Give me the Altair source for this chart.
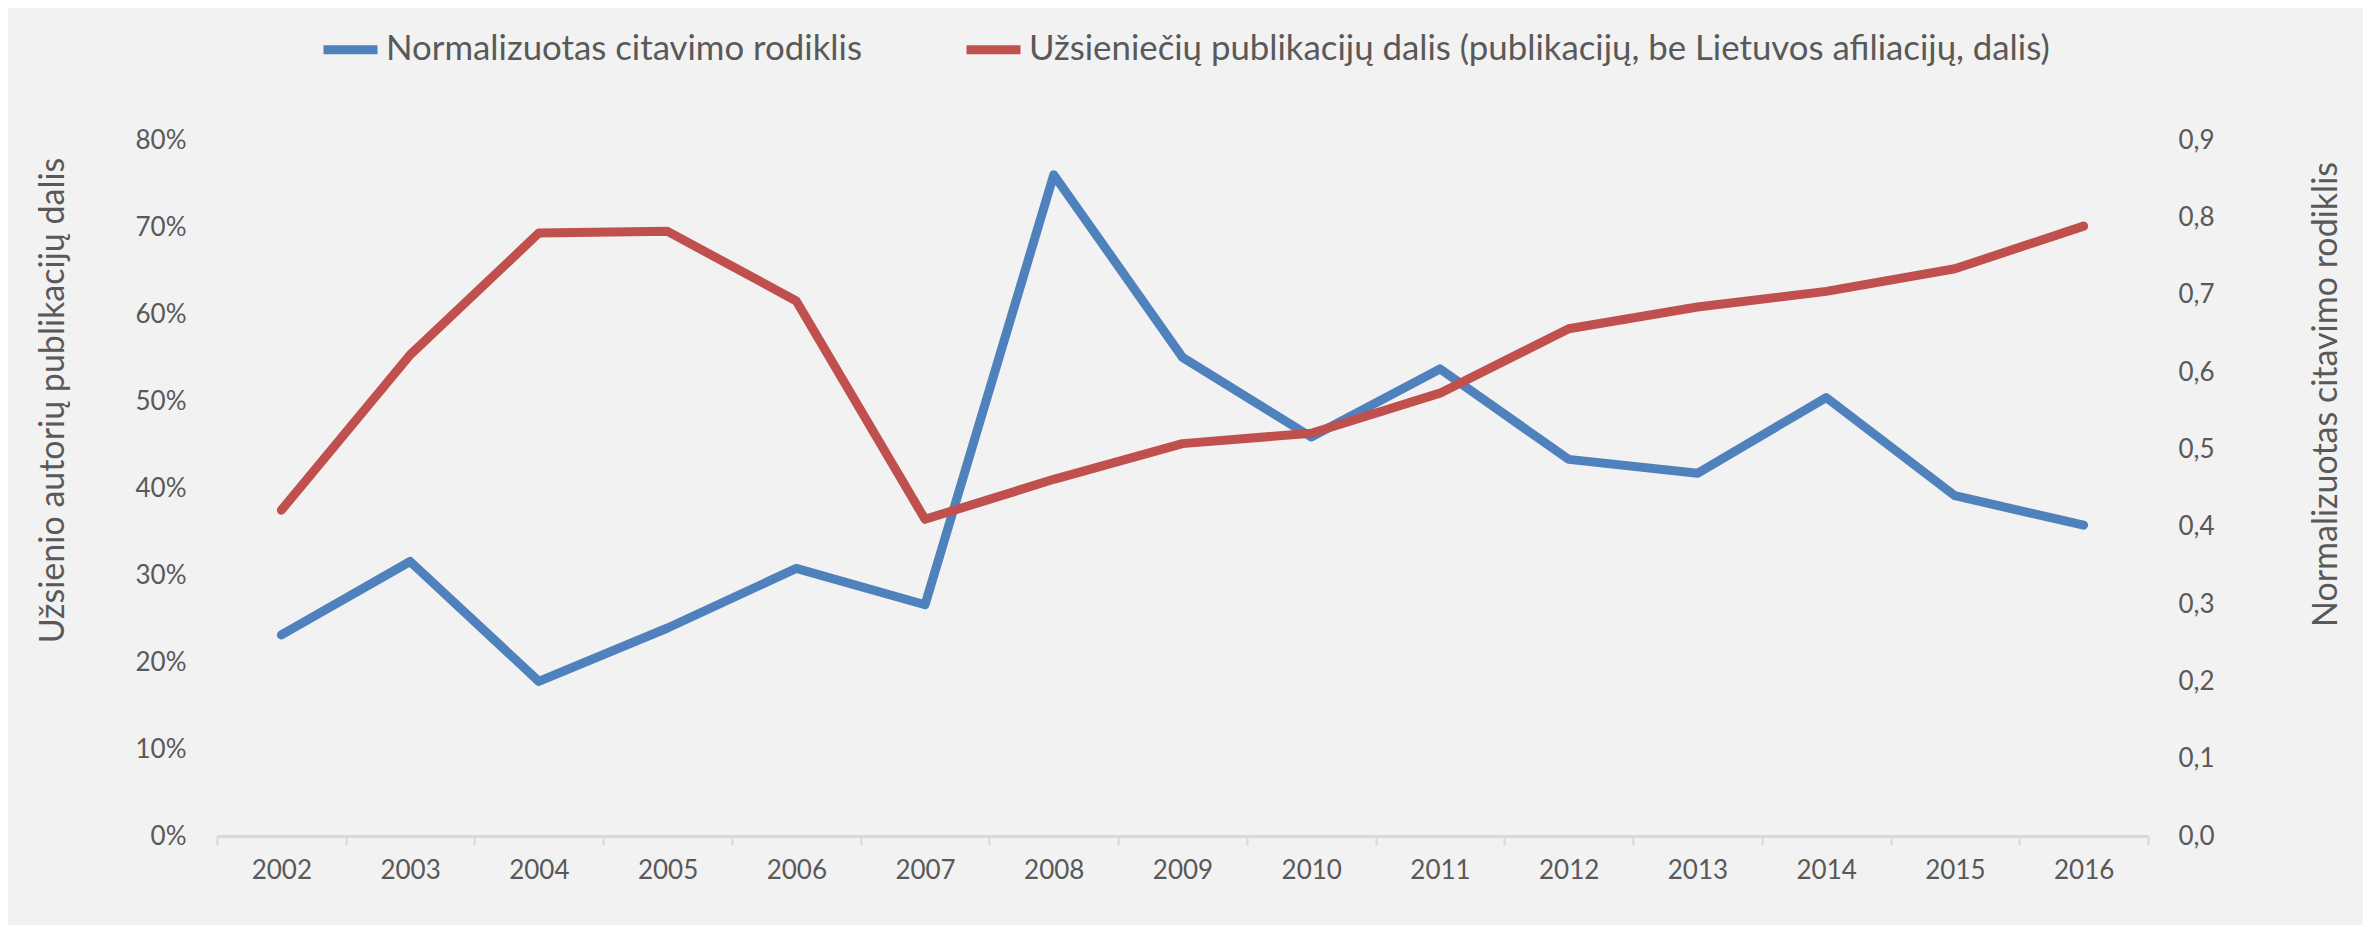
import altair as alt
import pandas as pd

years = ["2002", "2003", "2004", "2005", "2006", "2007", "2008", "2009",
         "2010", "2011", "2012", "2013", "2014", "2015", "2016"]
citation_index = [0.260, 0.355, 0.200, 0.269, 0.346, 0.299, 0.855, 0.619,
                  0.516, 0.604, 0.487, 0.469, 0.567, 0.440, 0.402]
foreign_share = [0.3745, 0.553, 0.693, 0.695, 0.615, 0.364, 0.410, 0.451,
                 0.463, 0.509, 0.583, 0.608, 0.626, 0.652, 0.701]

SERIES_CIT = "Normalizuotas citavimo rodiklis"
SERIES_SHARE = "Užsieniečių publikacijų dalis (publikacijų, be Lietuvos afiliacijų, dalis)"
series_names = [SERIES_CIT, SERIES_SHARE]
series_colors = ["#4F81BD", "#C0504D"]
left_ticks = [0, 0.1, 0.2, 0.3, 0.4, 0.5, 0.6, 0.7, 0.8]
right_ticks = [0, 0.1, 0.2, 0.3, 0.4, 0.5, 0.6, 0.7, 0.8, 0.9]

rows = []
for y, c, s in zip(years, citation_index, foreign_share):
    rows.append({"year": y, "series": SERIES_CIT, "value": c})
    rows.append({"year": y, "series": SERIES_SHARE, "value": s})
df = pd.DataFrame(rows)

FONT = "Lato"
TXT = "#595959"
GRID = "#D9D9D9"

x_enc = alt.X(
    "year:O",
    scale=alt.Scale(type="band", paddingInner=0, paddingOuter=0),
    axis=alt.Axis(
        title=None, labelAngle=0, tickBand="extent", tickSize=9, tickWidth=2,
        tickColor=GRID, domainColor=GRID, domainWidth=3,
        labelFont=FONT, labelFontSize=26, labelColor=TXT, labelPadding=12,
    ),
)

color_enc = alt.Color(
    "series:N",
    scale=alt.Scale(domain=series_names, range=series_colors),
    legend=alt.Legend(
        title=None, orient="none", direction="horizontal",
        legendX=102, legendY=-122, padding=0,
        symbolType="stroke", symbolStrokeWidth=9, symbolSize=2916,
        labelFont=FONT, labelFontSize=34.8, labelColor=TXT, labelLimit=0,
        labelOffset=4, columnPadding=86,
    ),
)

line_props = dict(strokeWidth=9, strokeCap="round", strokeJoin="round")

cit_layer = alt.Chart(df).transform_filter(
    alt.datum.series == SERIES_CIT
).mark_line(**line_props).encode(
    x=x_enc,
    y=alt.Y(
        "value:Q",
        scale=alt.Scale(domain=[0, 0.9], nice=False, zero=True),
        axis=alt.Axis(
            orient="right", values=right_ticks, domain=False, ticks=False, grid=False,
            labelExpr="replace(format(datum.value, '.1f'), '.', ',')",
            labelFont=FONT, labelFontSize=26, labelColor=TXT, labelPadding=30,
            title="Normalizuotas citavimo rodiklis", titleFont=FONT, titleFontSize=34,
            titleFontWeight="normal", titleColor=TXT, titleAngle=-90,
            titleAlign="center", titleBaseline="middle", titleX=178, titleY=254,
        ),
    ),
    color=color_enc,
)

share_layer = alt.Chart(df).transform_filter(
    alt.datum.series == SERIES_SHARE
).mark_line(**line_props).encode(
    x=x_enc,
    y=alt.Y(
        "value:Q",
        scale=alt.Scale(domain=[0, 0.8], nice=False, zero=True),
        axis=alt.Axis(
            orient="left", values=left_ticks, format=".0%", domain=False, ticks=False,
            grid=False, labelFont=FONT, labelFontSize=26, labelColor=TXT, labelPadding=31,
            title="Užsienio autorių publikacijų dalis", titleFont=FONT, titleFontSize=34,
            titleFontWeight="normal", titleColor=TXT, titleAngle=-90,
            titleAlign="center", titleBaseline="middle", titleX=-164, titleY=260,
        ),
    ),
    color=color_enc,
)

chart = alt.layer(cit_layer, share_layer).resolve_scale(
    y="independent"
).properties(
    width=1931, height=696,
    padding={"left": 209, "top": 132, "right": 215, "bottom": 89},
    autosize=alt.AutoSizeParams(type="none"),
    background="#F2F2F2",
).configure_view(strokeWidth=0)

chart.save("out.html", embed_options={"renderer": "svg", "actions": False})
